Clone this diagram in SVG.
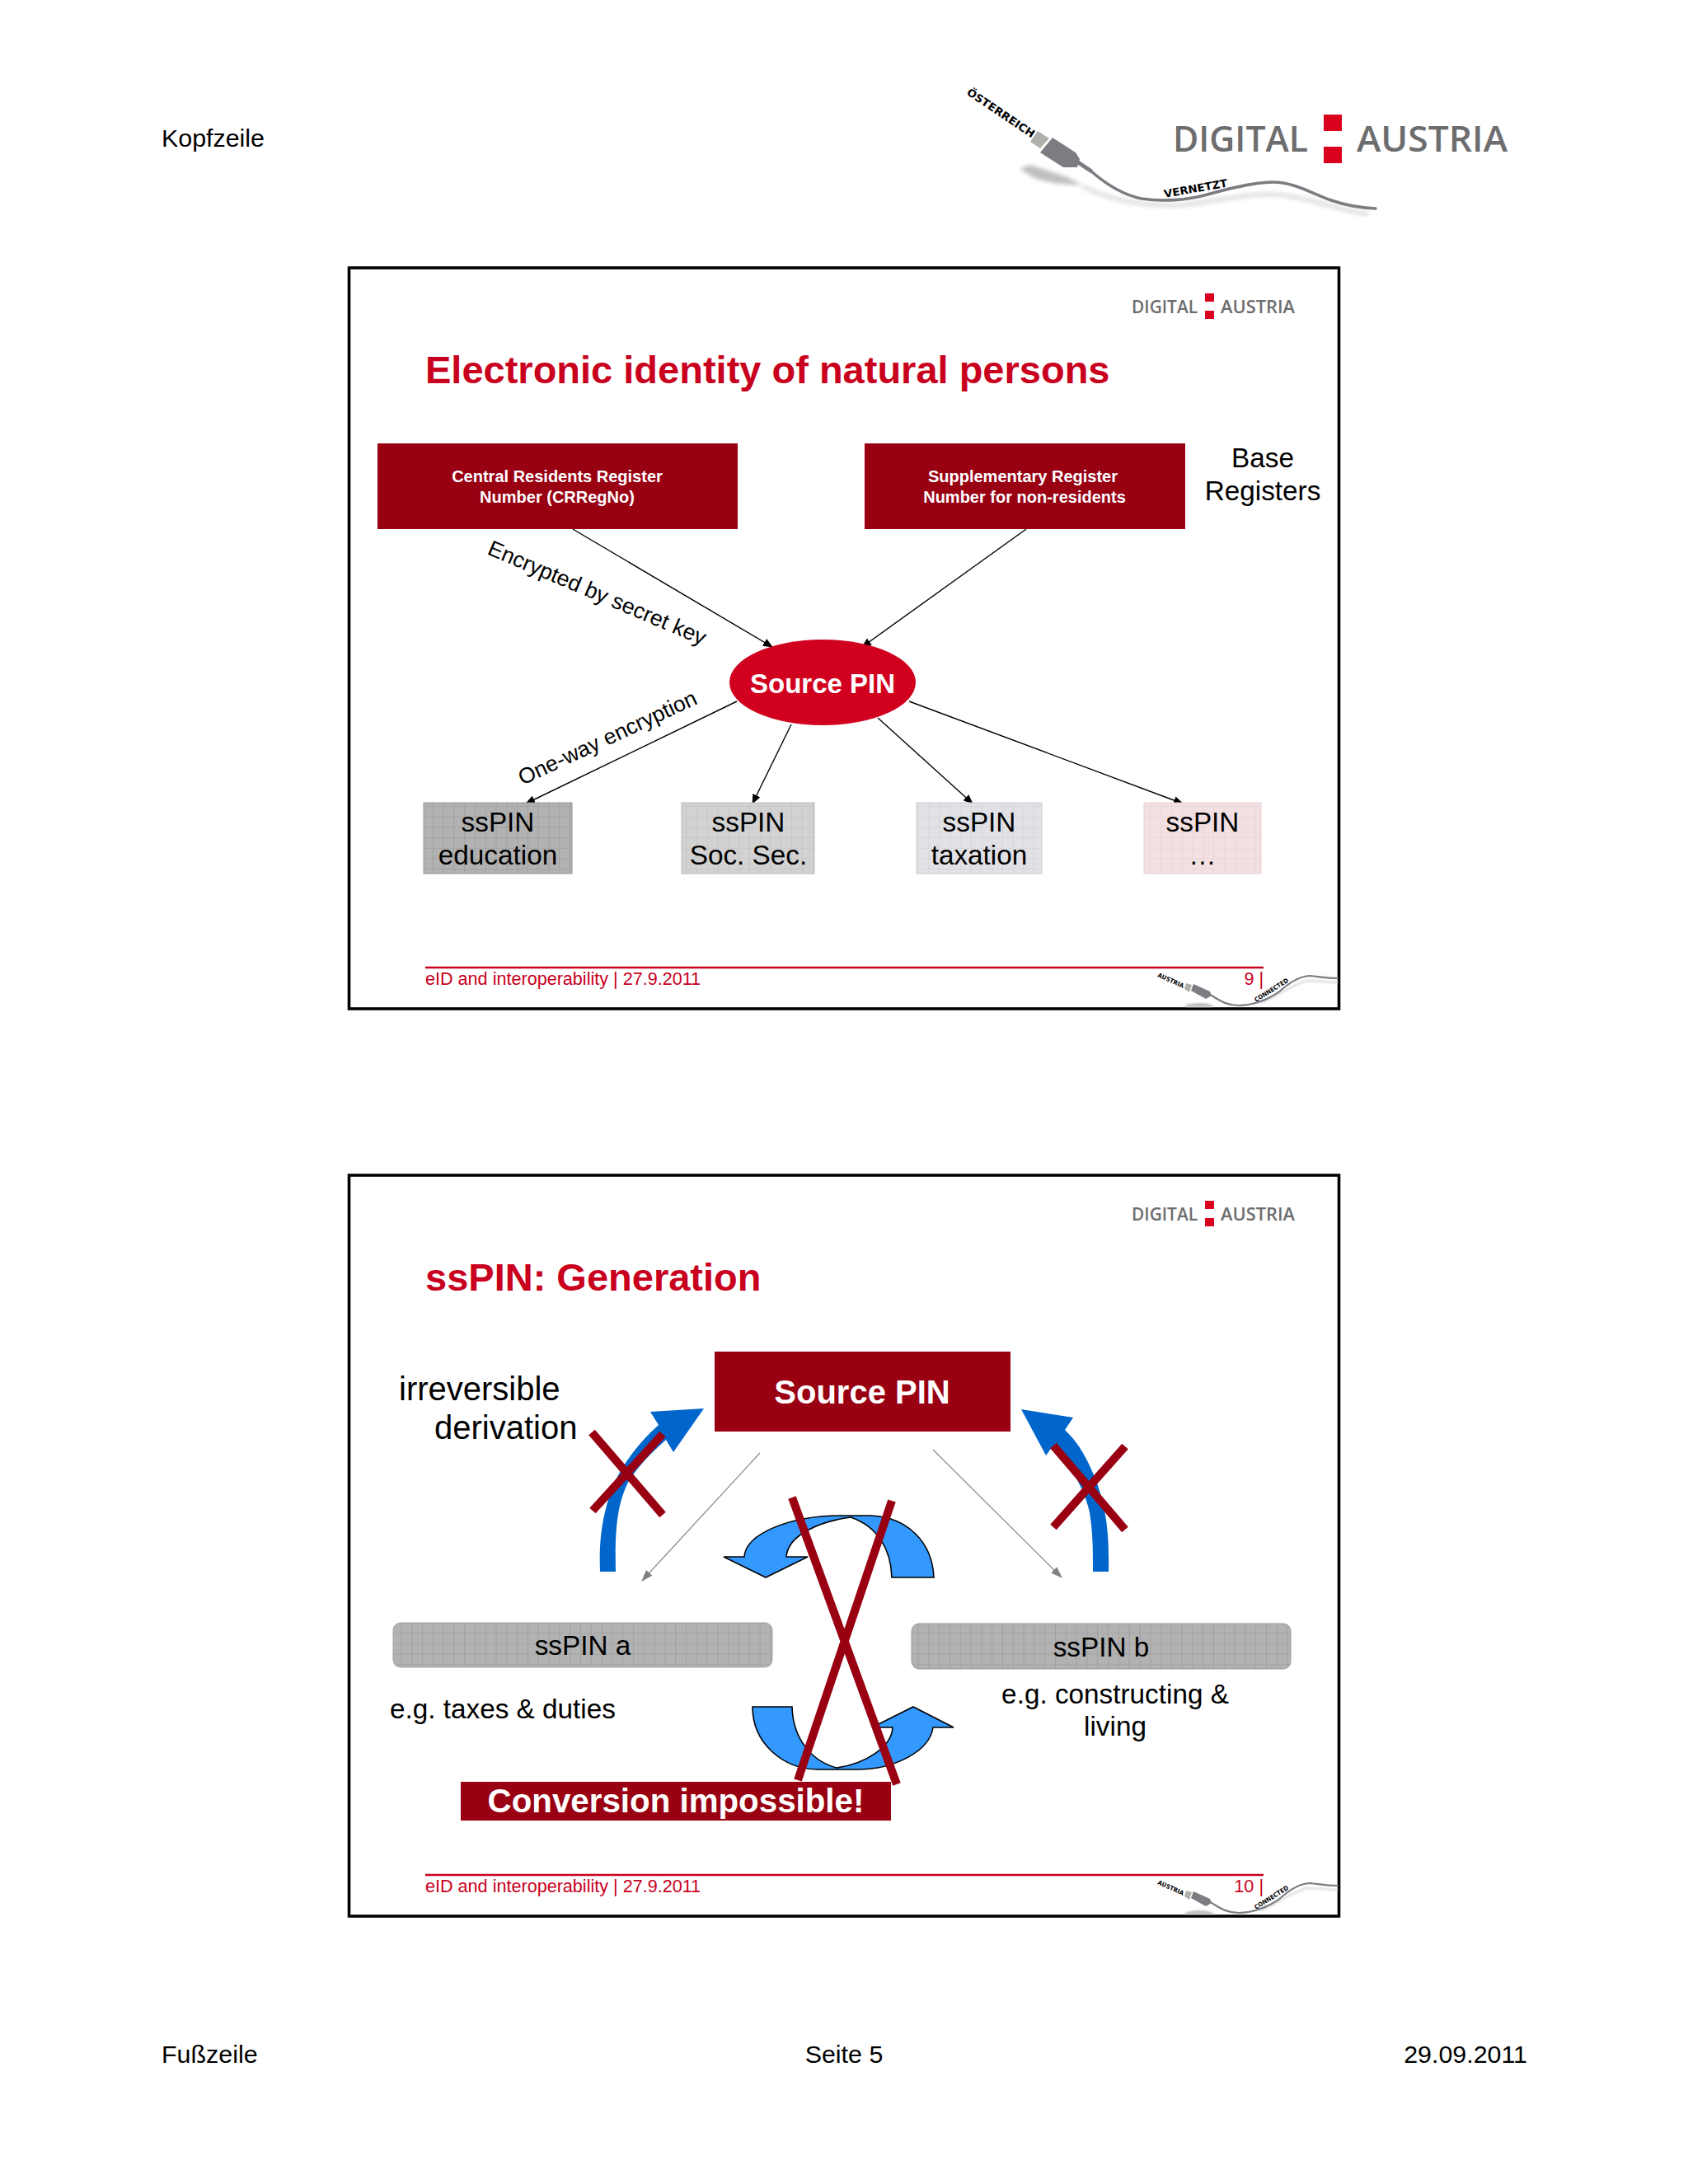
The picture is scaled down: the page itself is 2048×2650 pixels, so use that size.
<svg xmlns="http://www.w3.org/2000/svg" width="2048" height="2650" viewBox="0 0 2048 2650">
<style>
text{font-family:"Liberation Sans",Arial,sans-serif;fill:#000}
.page{font-size:30.4px}
.title{font-size:47px;font-weight:bold;fill:#c8001e}
.reg{font-size:20px;font-weight:bold;fill:#fff;text-anchor:middle}
.lbl{font-size:33.3px}
.mid{text-anchor:middle}
.pin{font-size:33.3px;text-anchor:middle}
.foot{font-size:21.6px;fill:#c8001e}
.logo{font-family:"Open Sans",sans-serif;font-weight:600;fill:#6d6d6f}
.usb{font-family:"DejaVu Sans",sans-serif;font-weight:bold;fill:#000}
.frame{fill:#fff;stroke:#000;stroke-width:3.6}
.dark{fill:#990012}
.red{fill:#d9001e}
.con{stroke:#000;stroke-width:1.4;fill:none;marker-end:url(#ah)}
.thin{stroke:#8a8a8a;stroke-width:1.2;fill:none;marker-end:url(#ag)}
.cross{stroke:#990012;stroke-width:10;fill:none}
.blue{fill:#0066cc}
.lb{fill:#3399ff;stroke:#000;stroke-width:1.6}
.cable{fill:none;stroke:#7c7c82;stroke-linecap:round}
.plug{fill:#7c7c82}
.metal{fill:#b0b0aa}
.shadow{fill:#bfbfbf}
.glow{fill:none;stroke:#dedede}
</style>
<defs>
<marker id="ah" markerWidth="12" markerHeight="10" refX="11" refY="5" orient="auto" markerUnits="userSpaceOnUse"><path d="M0,0L12,5L0,10Z" fill="#000"/></marker>
<marker id="ag" markerWidth="14" markerHeight="10" refX="13" refY="5" orient="auto" markerUnits="userSpaceOnUse"><path d="M0,0L14,5L0,10Z" fill="#808080"/></marker>
<pattern id="g1" width="12.8" height="12.7" patternUnits="userSpaceOnUse"><rect width="12.8" height="12.7" fill="#b2b2b2"/><path d="M0,0H12.8M0,0V12.7" stroke="#979797" stroke-width="1.2"/></pattern>
<pattern id="g2" width="12.8" height="12.7" patternUnits="userSpaceOnUse"><rect width="12.8" height="12.7" fill="#d2d2d2"/><path d="M0,0H12.8M0,0V12.7" stroke="#bdbdbd" stroke-width="1"/></pattern>
<pattern id="g3" width="12.8" height="12.7" patternUnits="userSpaceOnUse"><rect width="12.8" height="12.7" fill="#e2e2e6"/><path d="M0,0H12.8M0,0V12.7" stroke="#cfcfd3" stroke-width="1"/></pattern>
<pattern id="g4" width="12.8" height="12.7" patternUnits="userSpaceOnUse"><rect width="12.8" height="12.7" fill="#f2e0e2"/><path d="M0,0H12.8M0,0V12.7" stroke="#e6d0d3" stroke-width="1"/></pattern>
<filter id="blur"><feGaussianBlur stdDeviation="2.5"/></filter>
<filter id="blur2"><feGaussianBlur stdDeviation="1"/></filter>
</defs>
<rect width="2048" height="2650" fill="#fff"/>

<g id="page-header">
<text class="page" x="196" y="178">Kopfzeile</text>
</g>
<g id="page-logo">
<path class="shadow" filter="url(#blur)" d="M1237,205L1250,200L1295,215L1313,225L1283,223L1257,217Z"/>
<path class="glow" stroke-width="5" filter="url(#blur)" d="M1313,226C1345,242 1385,250 1430,249C1470,246 1510,234 1550,236C1590,240 1620,254 1660,260"/>
<path class="metal" d="M1259,159L1273,168L1262,180L1250,172Z"/>
<path class="plug" d="M1277,167L1305,185L1310,193L1307,203L1290,203L1262,185Z"/>
<path class="cable" stroke-width="5" d="M1308,197L1323,207"/>
<path class="cable" stroke-width="3.6" d="M1323,207C1340,222 1360,236 1385,241C1410,245 1440,243 1465,236C1490,229 1520,221 1544,221C1570,221 1590,234 1615,243C1635,250 1650,252 1669,253"/>
<text class="usb" font-size="13" transform="translate(1172,114) rotate(34)" textLength="96" lengthAdjust="spacingAndGlyphs">ÖSTERREICH</text>
<text class="usb" font-size="13" transform="translate(1413,240) rotate(-10)" textLength="78" lengthAdjust="spacingAndGlyphs">VERNETZT</text>
<text class="logo" x="1423" y="184" font-size="43" textLength="164" lengthAdjust="spacingAndGlyphs">DIGITAL</text>
<text class="logo" x="1646" y="184" font-size="43" textLength="183" lengthAdjust="spacingAndGlyphs">AUSTRIA</text>
<rect class="red" x="1606" y="139" width="22" height="20"/>
<rect class="red" x="1606" y="178" width="22" height="20"/>
</g>

<g id="slide-9">
<rect class="frame" x="423.5" y="325" width="1201" height="899"/>
<g id="slide-9-logo">
<text class="logo" x="1373" y="380" font-size="22" textLength="80" lengthAdjust="spacingAndGlyphs">DIGITAL</text>
<text class="logo" x="1481" y="380" font-size="22" textLength="90" lengthAdjust="spacingAndGlyphs">AUSTRIA</text>
<rect class="red" x="1462" y="356" width="11" height="10"/>
<rect class="red" x="1462" y="377" width="11" height="10"/>
</g>
<text class="title" x="516" y="465">Electronic identity of natural persons</text>

<g id="connectors-9">
<line class="con" x1="695" y1="642" x2="937" y2="785"/>
<line class="con" x1="1245" y1="642" x2="1046" y2="785"/>
<line class="con" x1="894" y1="851" x2="638" y2="975"/>
<line class="con" x1="960" y1="879" x2="913" y2="975"/>
<line class="con" x1="1065" y1="871" x2="1180" y2="975"/>
<line class="con" x1="1103" y1="851" x2="1435" y2="975"/>
</g>

<g id="crreg"><rect class="dark" x="458" y="538" width="437" height="104"/>
<text class="reg" x="676" y="585">Central Residents Register</text>
<text class="reg" x="676" y="610">Number (CRRegNo)</text></g>
<g id="suppreg"><rect class="dark" x="1049" y="538" width="389" height="104"/>
<text class="reg" x="1241" y="585">Supplementary Register</text>
<text class="reg" x="1243" y="610">Number for non-residents</text></g>
<g id="base-registers"><text class="lbl mid" x="1532" y="567">Base</text>
<text class="lbl mid" x="1532" y="607">Registers</text></g>
<g id="source-pin-1"><ellipse cx="998" cy="828" rx="113" ry="52" fill="#d0001e"/>
<text x="998" y="841" font-size="33" font-weight="bold" text-anchor="middle" style="fill:#fff">Source PIN</text></g>
<text id="enc-label" font-size="26.7" transform="translate(590,672) rotate(23)">Encrypted by secret key</text>
<text id="oneway-label" font-size="26.5" transform="translate(634,953) rotate(-25)">One-way encryption</text>

<g id="sspin-education"><rect x="514" y="974" width="180" height="86" fill="url(#g1)" stroke="#999" stroke-width="1"/>
<text class="pin" x="604" y="1009">ssPIN</text><text class="pin" x="604" y="1049">education</text></g>
<g id="sspin-socsec"><rect x="827" y="974" width="161" height="86" fill="url(#g2)" stroke="#bbb" stroke-width="1"/>
<text class="pin" x="908" y="1009">ssPIN</text><text class="pin" x="908" y="1049">Soc. Sec.</text></g>
<g id="sspin-taxation"><rect x="1112" y="974" width="152" height="86" fill="url(#g3)" stroke="#ccc" stroke-width="1"/>
<text class="pin" x="1188" y="1009">ssPIN</text><text class="pin" x="1188" y="1049">taxation</text></g>
<g id="sspin-other"><rect x="1388" y="974" width="142" height="86" fill="url(#g4)" stroke="#e6cdd1" stroke-width="1"/>
<text class="pin" x="1459" y="1009">ssPIN</text><text class="pin" x="1459" y="1049">…</text></g>

<g id="slide-9-footer">
<line x1="516" y1="1174" x2="1533" y2="1174" stroke="#c8001e" stroke-width="2.5"/>
<text class="foot" x="516" y="1195">eID and interoperability | 27.9.2011</text>
<text class="foot" x="1533" y="1195" text-anchor="end">9 |</text>
<path class="shadow" filter="url(#blur2)" d="M1437,1220C1448,1216 1465,1216 1473,1221L1470,1222L1440,1222Z"/>
<path class="glow" stroke-width="2.5" filter="url(#blur2)" d="M1530,1217C1548,1210 1565,1196 1585,1190C1600,1190 1612,1192 1623,1192"/>
<path class="metal" d="M1439,1193L1446,1195L1443,1204L1437,1200Z"/>
<path class="plug" d="M1448,1194L1468,1203L1470,1208L1463,1212L1445,1202Z"/>
<path class="cable" stroke-width="2.2" d="M1468,1207C1478,1212 1486,1220 1503,1220C1525,1220 1548,1208 1557,1199C1568,1190 1578,1184 1590,1184C1600,1185 1610,1187 1623,1187"/>
<text class="usb" font-size="7.5" transform="translate(1404,1185) rotate(24)" textLength="34" lengthAdjust="spacingAndGlyphs">AUSTRIA</text>
<text class="usb" font-size="7.5" transform="translate(1524,1216) rotate(-32)" textLength="47" lengthAdjust="spacingAndGlyphs">CONNECTED</text>
</g>
</g>

<g id="slide-10">
<rect class="frame" x="423.5" y="1426" width="1201" height="899"/>
<g id="slide-10-logo">
<text class="logo" x="1373" y="1481" font-size="22" textLength="80" lengthAdjust="spacingAndGlyphs">DIGITAL</text>
<text class="logo" x="1481" y="1481" font-size="22" textLength="90" lengthAdjust="spacingAndGlyphs">AUSTRIA</text>
<rect class="red" x="1462" y="1457" width="11" height="10"/>
<rect class="red" x="1462" y="1478" width="11" height="10"/>
</g>
<text class="title" x="516" y="1566">ssPIN: Generation</text>

<g id="connectors-10">
<line class="thin" x1="922" y1="1763" x2="779" y2="1918"/>
<line class="thin" x1="1132" y1="1759" x2="1288" y2="1914"/>
<path class="blue" d="M728,1907L747,1907C746,1860 748,1825 763,1797C775,1778 790,1763 808,1747L817,1762L854,1709L789,1713L799,1729C770,1755 745,1790 737,1823C728,1855 727,1880 728,1907Z"/>
<path class="blue" d="M1326,1907L1345,1907C1346,1860 1342,1830 1330,1797C1320,1772 1310,1752 1292,1735L1302,1720L1239,1710L1269,1766L1277,1755C1300,1780 1315,1805 1322,1835C1326,1860 1326,1880 1326,1907Z"/>
<path class="lb" d="M929,1914L878,1889L903,1889C905,1860 960,1839 1020,1839L1057,1839C1100,1841 1131,1870 1133,1914L1082,1914C1081,1880 1065,1852 1032,1841C995,1846 956,1862 954,1889L980,1889Z"/>
<path class="lb" d="M913,2071L961,2071C962,2110 985,2137 1015,2145C1050,2140 1082,2120 1083,2096L1058,2096L1108,2071L1157,2096L1132,2096C1128,2125 1085,2147 1040,2147L993,2147C950,2147 913,2115 913,2071Z"/>
<path class="cross" d="M718,1738L804,1838M804,1740L719,1833"/>
<path class="cross" d="M1278,1754L1365,1856M1365,1755L1278,1853"/>
<path class="cross" d="M961,1817L1088,2165M1082,1821L968,2160"/>
</g>

<g id="source-pin-2"><rect class="dark" x="867" y="1640" width="359" height="97"/>
<text x="1046" y="1703" font-size="40" font-weight="bold" text-anchor="middle" style="fill:#fff">Source PIN</text></g>
<g id="irreversible"><text x="484" y="1699" font-size="40">irreversible</text>
<text x="527" y="1746" font-size="40">derivation</text></g>
<g id="sspin-a"><rect x="477" y="1969" width="460" height="54" rx="9" fill="url(#g1)" stroke="#a5a5a5" stroke-width="1"/>
<text class="pin" x="707" y="2008">ssPIN a</text></g>
<g id="sspin-b"><rect x="1106" y="1970" width="460" height="55" rx="9" fill="url(#g1)" stroke="#999" stroke-width="1"/>
<text class="pin" x="1336" y="2010">ssPIN b</text></g>
<text class="lbl" x="473" y="2085">e.g. taxes &amp; duties</text>
<g id="constructing"><text class="lbl mid" x="1353" y="2067">e.g. constructing &amp;</text>
<text class="lbl mid" x="1353" y="2106">living</text></g>
<g id="conversion"><rect class="dark" x="559" y="2162" width="522" height="47"/>
<text x="820" y="2199" font-size="40.3" font-weight="bold" text-anchor="middle" style="fill:#fff">Conversion impossible!</text></g>

<g id="slide-10-footer">
<line x1="516" y1="2275" x2="1533" y2="2275" stroke="#c8001e" stroke-width="2.5"/>
<text class="foot" x="516" y="2296">eID and interoperability | 27.9.2011</text>
<text class="foot" x="1533" y="2296" text-anchor="end">10 |</text>
<path class="shadow" filter="url(#blur2)" d="M1437,2321C1448,2317 1465,2317 1473,2322L1470,2323L1440,2323Z"/>
<path class="glow" stroke-width="2.5" filter="url(#blur2)" d="M1530,2318C1548,2311 1565,2297 1585,2291C1600,2291 1612,2293 1623,2293"/>
<path class="metal" d="M1439,2294L1446,2296L1443,2305L1437,2301Z"/>
<path class="plug" d="M1448,2295L1468,2304L1470,2309L1463,2313L1445,2303Z"/>
<path class="cable" stroke-width="2.2" d="M1468,2308C1478,2313 1486,2321 1503,2321C1525,2321 1548,2309 1557,2300C1568,2291 1578,2285 1590,2285C1600,2286 1610,2288 1623,2288"/>
<text class="usb" font-size="7.5" transform="translate(1404,2286) rotate(24)" textLength="34" lengthAdjust="spacingAndGlyphs">AUSTRIA</text>
<text class="usb" font-size="7.5" transform="translate(1524,2317) rotate(-32)" textLength="47" lengthAdjust="spacingAndGlyphs">CONNECTED</text>
</g>
</g>

<g id="page-footer">
<text class="page" x="196" y="2503">Fußzeile</text>
<text class="page mid" x="1024" y="2503">Seite 5</text>
<text class="page" x="1853" y="2503" text-anchor="end">29.09.2011</text>
</g>
</svg>
